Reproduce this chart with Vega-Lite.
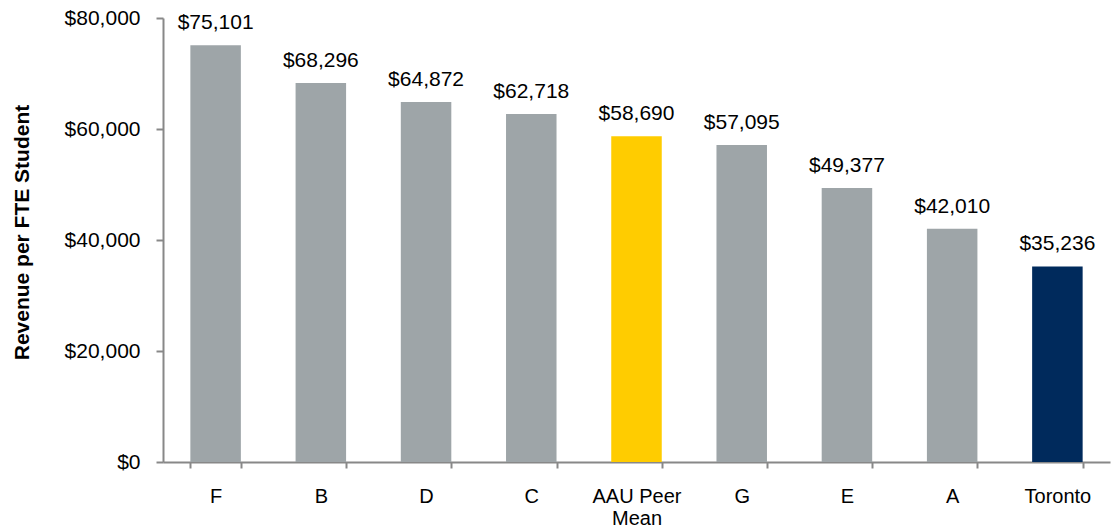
{
  "$schema": "https://vega.github.io/schema/vega-lite/v6.json",
  "width": 947,
  "height": 444,
  "autosize": {"type": "none"},
  "padding": {"left": 163, "top": 18, "right": 5, "bottom": 69},
  "background": "white",
  "config": {"view": {"stroke": null}, "font": "Liberation Sans"},
  "data": {"values": [
    {"name": "F", "value": 75101, "group": "peer"},
    {"name": "B", "value": 68296, "group": "peer"},
    {"name": "D", "value": 64872, "group": "peer"},
    {"name": "C", "value": 62718, "group": "peer"},
    {"name": "AAU Peer Mean", "value": 58690, "group": "mean"},
    {"name": "G", "value": 57095, "group": "peer"},
    {"name": "E", "value": 49377, "group": "peer"},
    {"name": "A", "value": 42010, "group": "peer"},
    {"name": "Toronto", "value": 35236, "group": "toronto"}
  ]},
  "encoding": {
    "x": {"field": "name", "type": "nominal", "sort": null,
      "scale": {"paddingInner": 0.52, "paddingOuter": 0.26},
      "axis": {"title": null, "labelAngle": 0, "labelFontSize": 20, "labelColor": "#000",
        "labelPadding": 18, "tickBand": "extent", "tickSize": 6, "tickColor": "#888", "tickWidth": 2,
        "domainColor": "#888", "domainWidth": 2,
        "labelExpr": "datum.value == 'AAU Peer Mean' ? ['AAU Peer', 'Mean'] : datum.value",
        "labelLineHeight": 22, "labelBaseline": "top"}},
    "y": {"field": "value", "type": "quantitative",
      "scale": {"domain": [0, 80000], "nice": false},
      "axis": {"title": "Revenue per FTE Student", "titleFontSize": 21, "titleFontWeight": "bold",
        "titleColor": "#000", "titlePadding": 32, "titleY": 214,
        "values": [0, 20000, 40000, 60000, 80000], "format": "$,.0f", "grid": false,
        "labelFontSize": 21, "labelColor": "#000", "labelPadding": 16,
        "tickSize": 7, "tickColor": "#888", "tickWidth": 2, "domainColor": "#888", "domainWidth": 2}}
  },
  "layer": [
    {"mark": {"type": "bar"},
     "encoding": {"color": {"field": "group", "type": "nominal", "legend": null,
       "scale": {"domain": ["peer", "mean", "toronto"], "range": ["#9EA5A8", "#FFCC00", "#002A5C"]}}}},
    {"mark": {"type": "text", "baseline": "alphabetic", "dy": -16, "fontSize": 21, "color": "#000"},
     "encoding": {"text": {"field": "value", "type": "quantitative", "format": "$,.0f"}}}
  ]
}
